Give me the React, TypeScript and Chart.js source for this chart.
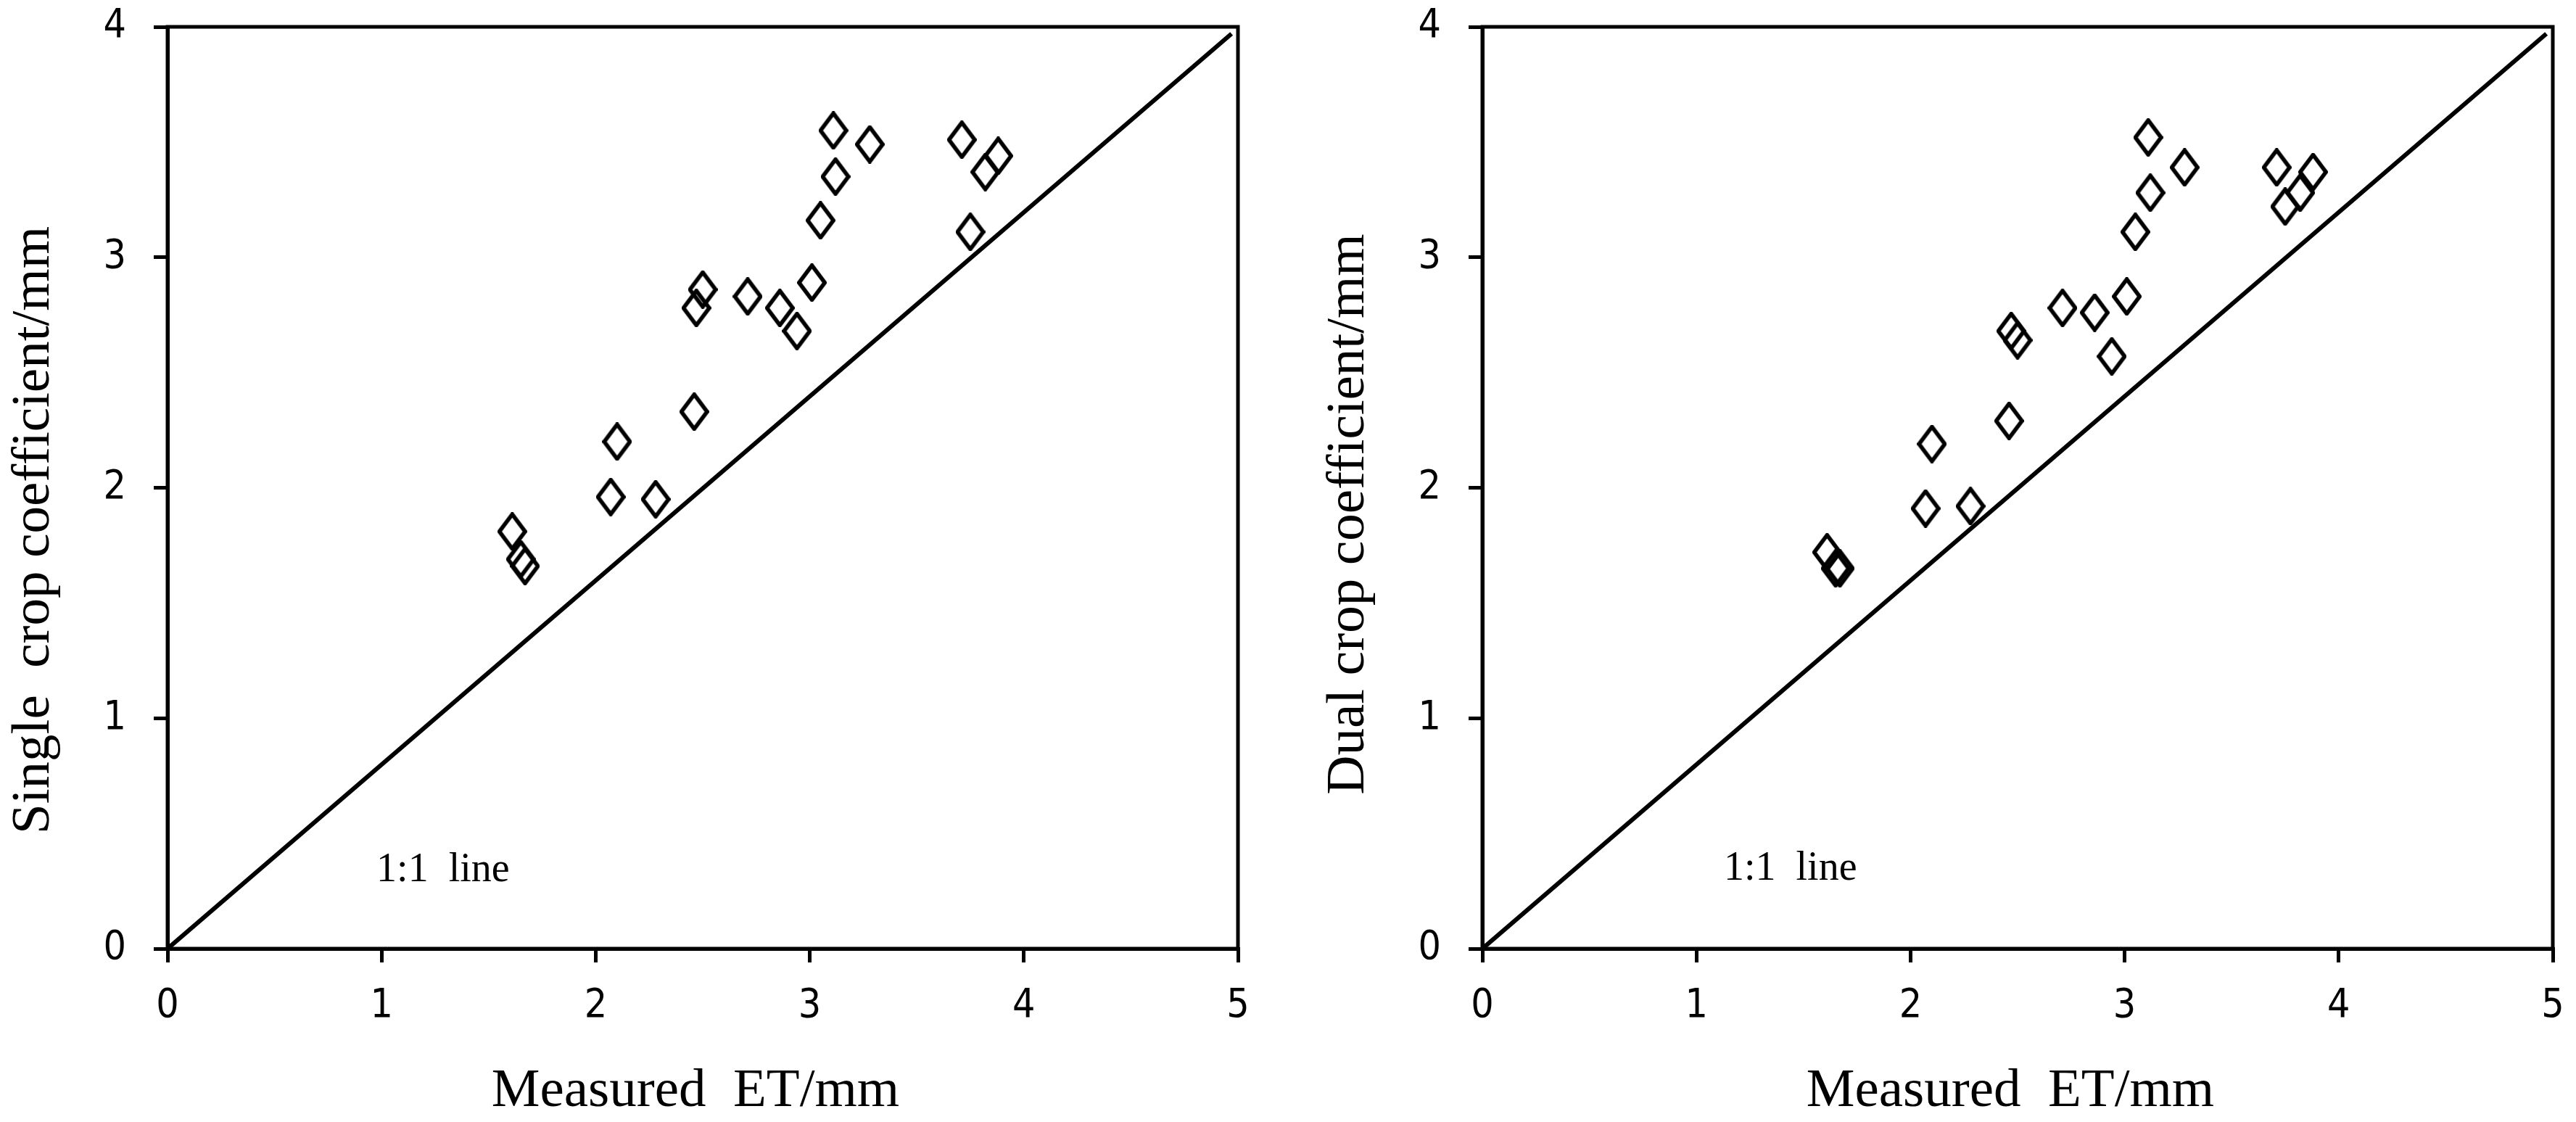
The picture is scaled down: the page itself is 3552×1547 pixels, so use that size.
import React, { useEffect, useRef } from "react";
import { Chart, registerables } from "chart.js";

Chart.register(...registerables);

// ---- data ----
const MEASURED_ET = [1.61, 1.65, 1.67, 2.07, 2.1, 2.28, 2.46, 2.47, 2.5, 2.71, 2.86, 2.94, 3.01, 3.05, 3.11, 3.12, 3.28, 3.71, 3.75, 3.82, 3.88];
const SINGLE_KC = [1.81, 1.69, 1.66, 1.96, 2.2, 1.95, 2.33, 2.78, 2.86, 2.83, 2.78, 2.68, 2.89, 3.16, 3.55, 3.35, 3.49, 3.51, 3.11, 3.37, 3.44];
const DUAL_KC = [1.72, 1.65, 1.65, 1.91, 2.19, 1.92, 2.29, 2.68, 2.64, 2.78, 2.76, 2.57, 2.83, 3.11, 3.52, 3.28, 3.39, 3.39, 3.22, 3.28, 3.37];
const LINE_X = [0, 4.97];
const LINE_Y = [0, 3.97];
const X_TICKS = [0, 1, 2, 3, 4, 5];
const Y_TICKS = [0, 1, 2, 3, 4];
const X_TITLE = "Measured  ET/mm";
const Y_TITLE_SINGLE = "Single  crop coefficient/mm";
const Y_TITLE_DUAL = "Dual crop coefficient/mm";
const LINE_LABEL = "1:1  line";
const LABEL_POS_SINGLE = [0.976, 0.293];
const LABEL_POS_DUAL = [1.128, 0.3];

// ---- styling ----
const CANVAS_W = 1739;
const CANVAS_H = 1547;
const TICK_FONT = '"DejaVu Sans Condensed", "Liberation Sans Narrow", "DejaVu Sans", sans-serif';
const SERIF = '"Liberation Serif", "Times New Roman", serif';

function makeDiamond(): HTMLCanvasElement {
  const w = 41;
  const h = 53;
  const lw = 5.5;
  const c = document.createElement("canvas");
  c.width = w;
  c.height = h;
  const g = c.getContext("2d")!;
  g.strokeStyle = "#000";
  g.lineWidth = lw;
  g.lineJoin = "miter";
  g.beginPath();
  g.moveTo(w / 2, lw / 2);
  g.lineTo(w - lw / 2, h / 2);
  g.lineTo(w / 2, h - lw / 2);
  g.lineTo(lw / 2, h / 2);
  g.closePath();
  g.stroke();
  return c;
}

function ScatterPanel(props: {
  yValues: number[];
  yTitle: string;
  yTitleCenter: number;
  labelPos: number[];
  left: number;
}) {
  const ref = useRef<HTMLCanvasElement | null>(null);

  useEffect(() => {
    if (!ref.current) return;
    const diamond = makeDiamond();
    const pts = MEASURED_ET.map((x, i) => ({ x, y: props.yValues[i] }));
    const linePts = LINE_X.map((x, i) => ({ x, y: LINE_Y[i] }));

    const decor = {
      id: "decor",
      afterDraw(chart: any) {
        const { ctx, chartArea: a, scales } = chart;
        ctx.save();
        ctx.strokeStyle = "#000";
        ctx.lineWidth = 5;
        ctx.strokeRect(a.left, a.top, a.right - a.left, a.bottom - a.top);
        ctx.fillStyle = "#000";
        ctx.font = `75px ${SERIF}`;
        ctx.textAlign = "center";
        ctx.textBaseline = "alphabetic";
        ctx.fillText(X_TITLE, a.left + 728, 1525);
        ctx.save();
        ctx.translate(67, props.yTitleCenter);
        ctx.rotate(-Math.PI / 2);
        ctx.fillText(props.yTitle, 0, 0);
        ctx.restore();
        ctx.font = `56px ${SERIF}`;
        ctx.textAlign = "left";
        ctx.fillText(
          LINE_LABEL,
          scales.x.getPixelForValue(props.labelPos[0]),
          scales.y.getPixelForValue(props.labelPos[1])
        );
        ctx.restore();
      },
    };

    const axisCommon = {
      grid: {
        display: true,
        drawOnChartArea: false,
        drawTicks: true,
        tickLength: 19,
        tickWidth: 5,
        lineWidth: 5,
        color: "#000",
      },
      border: { display: true, width: 5, color: "#000" },
    };

    const zeroPad = (s: any) => {
      s.paddingTop = 0;
      s.paddingBottom = 0;
      s.paddingLeft = 0;
      s.paddingRight = 0;
    };

    const chart = new Chart(ref.current, {
      type: "scatter",
      data: {
        datasets: [
          {
            type: "scatter",
            data: pts,
            pointStyle: diamond as any,
            pointRadius: 22,
            borderColor: "#000",
            backgroundColor: "rgba(0,0,0,0)",
            order: 0,
          },
          {
            type: "line",
            data: linePts,
            showLine: true,
            borderColor: "#000",
            borderWidth: 6,
            pointRadius: 0,
            fill: false,
            tension: 0,
            order: 1,
          } as any,
        ],
      },
      options: {
        animation: false,
        responsive: true,
        maintainAspectRatio: false,
        layout: { padding: { left: 0, top: 37, right: 32, bottom: 0 } },
        plugins: {
          legend: { display: false },
          tooltip: { enabled: false },
        },
        scales: {
          x: {
            type: "linear",
            min: 0,
            max: 5,
            ...axisCommon,
            ticks: {
              color: "#000",
              padding: 28,
              font: { family: TICK_FONT, size: 55 },
            },
            afterBuildTicks: (s: any) => {
              s.ticks = X_TICKS.map((v) => ({ value: v }));
            },
            afterFit: (s: any) => {
              s.height = 239;
              zeroPad(s);
            },
          },
          y: {
            type: "linear",
            min: 0,
            max: 4,
            ...axisCommon,
            ticks: {
              color: "#000",
              padding: 38,
              font: { family: TICK_FONT, size: 55 },
            },
            afterBuildTicks: (s: any) => {
              s.ticks = Y_TICKS.map((v) => ({ value: v }));
            },
            afterFit: (s: any) => {
              s.width = 231;
              zeroPad(s);
            },
          },
        },
      },
      plugins: [decor],
    } as any);

    return () => chart.destroy();
  }, []);

  return (
    <div
      style={{
        position: "absolute",
        left: props.left,
        top: 0,
        width: CANVAS_W,
        height: CANVAS_H,
      }}
    >
      <canvas ref={ref} />
    </div>
  );
}

export default function App() {
  return (
    <div
      style={{
        position: "absolute",
        left: 0,
        top: 0,
        width: 3552,
        height: 1547,
        background: "#fff",
      }}
    >
      <ScatterPanel
        yValues={SINGLE_KC}
        yTitle={Y_TITLE_SINGLE}
        yTitleCenter={731}
        labelPos={LABEL_POS_SINGLE}
        left={0}
      />
      <ScatterPanel
        yValues={DUAL_KC}
        yTitle={Y_TITLE_DUAL}
        yTitleCenter={709}
        labelPos={LABEL_POS_DUAL}
        left={1813}
      />
    </div>
  );
}
